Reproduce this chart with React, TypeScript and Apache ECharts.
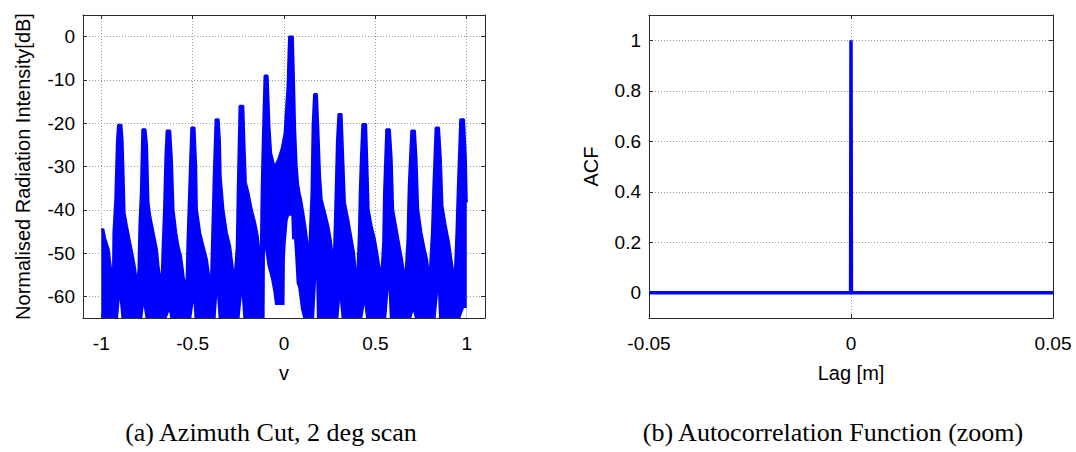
import React, { useEffect, useRef } from "react";
import * as echarts from "echarts";

// ---- (a) Azimuth cut: upper / lower envelope of the dense pattern ----
const azimuthV = [
  -1.0, -0.989, -0.978, -0.96, -0.951, -0.942, -0.936, -0.933, -0.923, -0.914,
  -0.908, -0.899, -0.89, -0.884, -0.878, -0.873, -0.86, -0.842, -0.827, -0.814,
  -0.805, -0.796, -0.791, -0.783, -0.775, -0.768, -0.758, -0.75, -0.742, -0.732,
  -0.714, -0.696, -0.687, -0.674, -0.668, -0.663, -0.656, -0.649, -0.642, -0.628,
  -0.623, -0.614, -0.605, -0.59, -0.578, -0.564, -0.554, -0.541, -0.532, -0.528,
  -0.519, -0.507, -0.495, -0.49, -0.481, -0.477, -0.459, -0.441, -0.422, -0.41,
  -0.402, -0.399, -0.392, -0.384, -0.374, -0.366, -0.358, -0.351, -0.347, -0.332,
  -0.313, -0.295, -0.286, -0.277, -0.272, -0.268, -0.258, -0.253, -0.243, -0.231,
  -0.223, -0.217, -0.209, -0.195, -0.177, -0.158, -0.144, -0.135, -0.131, -0.127,
  -0.122, -0.116, -0.106, -0.104, -0.09, -0.08, -0.071, -0.058, -0.049, -0.031,
  -0.013, 0.003, 0.005, 0.009, 0.02, 0.028, 0.04, 0.044, 0.048, 0.055,
  0.06, 0.069, 0.078, 0.087, 0.093, 0.105, 0.119, 0.13, 0.137, 0.142,
  0.151, 0.157, 0.165, 0.176, 0.18, 0.187, 0.197, 0.206, 0.224, 0.242,
  0.255, 0.264, 0.269, 0.275, 0.283, 0.29, 0.298, 0.306, 0.315, 0.324,
  0.333, 0.351, 0.37, 0.383, 0.393, 0.401, 0.404, 0.41, 0.415, 0.421,
  0.429, 0.44, 0.449, 0.455, 0.463, 0.479, 0.497, 0.51, 0.521, 0.53,
  0.537, 0.543, 0.548, 0.56, 0.572, 0.579, 0.589, 0.597, 0.616, 0.634,
  0.646, 0.657, 0.661, 0.665, 0.676, 0.683, 0.697, 0.707, 0.716, 0.725,
  0.734, 0.752, 0.77, 0.783, 0.794, 0.798, 0.81, 0.818, 0.83, 0.843,
  0.848, 0.858, 0.867, 0.885, 0.903, 0.916, 0.929, 0.934, 0.944, 0.952,
  0.965, 0.985, 0.995, 1.0,
];

const upperDb = [
  -44.5, -44.5, -46.8, -49.1, -52.2, -55.3, -57.6, -45.3, -37.6, -24.4,
  -20.4, -20.4, -20.4, -23.7, -32.2, -40.6, -43.7, -47.6, -50.7, -53.8,
  -57.6, -53.8, -43.7, -36.0, -21.4, -21.4, -21.4, -25.0, -38.3, -41.5,
  -45.3, -49.1, -53.0, -56.8, -54.5, -47.6, -39.9, -28.3, -21.7, -21.7,
  -21.7, -28.3, -39.9, -45.3, -48.4, -50.7, -53.8, -58.4, -55.3, -47.6,
  -36.0, -21.0, -21.0, -21.0, -30.0, -39.9, -45.3, -48.4, -51.5, -55.3,
  -58.0, -56.0, -45.0, -32.0, -19.1, -19.1, -19.1, -24.0, -32.2, -39.9,
  -45.3, -48.4, -51.5, -54.5, -58.4, -54.5, -48.4, -36.0, -16.0, -16.0,
  -16.0, -24.4, -33.7, -36.0, -39.9, -43.0, -46.0, -49.9, -54.5, -51.5,
  -36.0, -24.4, -9.0, -9.0, -9.0, -20.6, -26.8, -29.1, -30.0, -28.3,
  -26.0, -22.5, -21.5, -18.3, -11.3, 0, 0, 0, 0, -11.3,
  -20.6, -29.9, -34.5, -36.5, -37.6, -40.6, -44.5, -48.4, -51.5, -45.3,
  -36.0, -20.6, -13.3, -13.3, -13.3, -20.6, -32.2, -37.6, -40.6, -43.7,
  -46.8, -49.9, -54.5, -48.4, -36.0, -24.4, -17.9, -17.9, -17.9, -28.3,
  -38.3, -42.2, -46.8, -49.9, -54.5, -58.0, -52.0, -46.0, -36.0, -28.3,
  -20.2, -20.2, -20.2, -28.3, -39.9, -43.7, -46.8, -49.9, -53.0, -56.0,
  -52.0, -47.6, -36.0, -21.4, -21.4, -21.4, -28.3, -39.9, -44.5, -48.8,
  -51.5, -54.5, -57.0, -55.3, -46.8, -34.5, -21.7, -21.7, -21.7, -28.3,
  -39.9, -45.3, -49.1, -51.5, -56.0, -54.5, -45.3, -34.5, -21.0, -21.0,
  -21.0, -28.3, -39.1, -43.7, -47.6, -51.5, -55.3, -56.0, -45.3, -34.5,
  -19.1, -19.1, -28.3, -38.3,
];

const lowerDb = [
  -65, -65, -65, -65, -65, -65, -65, -65, -65, -65,
  -65, -60.7, -65, -65, -65, -65, -65, -65, -65, -65,
  -65, -65, -65, -65, -65, -62.3, -65, -65, -65, -65,
  -65, -65, -65, -65, -65, -65, -65, -65, -65, -63.5,
  -65, -65, -65, -65, -65, -65, -65, -65, -65, -65,
  -65, -65, -61.5, -65, -65, -65, -65, -65, -65, -65,
  -65, -65, -65, -65, -65, -60, -65, -65, -65, -65,
  -65, -65, -65, -65, -65, -65, -65, -65, -65, -60,
  -65, -65, -65, -65, -65, -65, -65, -65, -65, -65,
  -65, -65, -65, -49, -53, -54.5, -56, -59, -62, -62,
  -62, -62, -51.5, -48, -42.5, -41.4, -41.4, -46.8, -46.8, -46.8,
  -50, -57, -58, -61, -63, -65, -65, -65, -65, -65,
  -65, -65, -65, -56, -65, -65, -65, -65, -65, -65,
  -65, -65, -65, -65, -65, -65, -65, -61, -65, -65,
  -65, -65, -65, -65, -65, -65, -65, -65, -65, -65,
  -65, -62, -65, -65, -65, -65, -65, -65, -65, -65,
  -65, -65, -65, -65, -58.4, -65, -65, -65, -65, -65,
  -65, -65, -65, -65, -65, -65, -65, -63.5, -65, -65,
  -65, -65, -65, -65, -65, -65, -65, -65, -65, -59.2,
  -65, -65, -65, -65, -65, -65, -65, -65, -65, -65,
  -65, -62.7, -62.7, -62.7,
];

// ---- (b) Autocorrelation function (zoom) ----
const lagM = [-0.05, -0.0001, 0, 0.0001, 0.05];
const acfValues = [0, 0, 1, 0, 0];

// ---- texts ----
const captionA = "(a) Azimuth Cut, 2 deg scan";
const captionB = "(b) Autocorrelation Function (zoom)";
const yNameA = "Normalised Radiation Intensity[dB]";
const xNameA = "v";
const yNameB = "ACF";
const xNameB = "Lag [m]";

export default function App() {
  const ref = useRef<HTMLDivElement>(null);

  useEffect(() => {
    if (!ref.current) return;
    const chart = echarts.init(ref.current, null, { renderer: "svg" });
    const sans = "'Liberation Sans', Arial, Helvetica, sans-serif";
    const axisColor = "#2b2b2b";
    const blue = "#0000ff";

    const line = { show: true, onZero: false, lineStyle: { color: axisColor, width: 1 } };
    const tick = { show: true, inside: true, length: 4, lineStyle: { color: axisColor, width: 1 } };
    const split = { show: true, lineStyle: { type: [1, 2], color: "#9a9a9a", width: 1 } };
    const label = (margin: number, hideEdges: boolean) => ({
      show: true,
      color: "#000",
      fontFamily: sans,
      fontSize: 19,
      margin,
      showMinLabel: !hideEdges,
      showMaxLabel: !hideEdges,
    });
    const nameStyle = { color: "#000", fontFamily: sans, fontSize: 20 };
    const mirror = (kind: "x" | "y", gridIndex: number, extra: any) => ({
      gridIndex,
      type: "value",
      position: kind === "x" ? "top" : "right",
      axisLine: line,
      axisTick: tick,
      axisLabel: { show: false },
      splitLine: { show: false },
      ...extra,
    });

    const xA = { min: -1.1, max: 1.1, minInterval: 0.5, maxInterval: 0.5 };
    const yA = { min: -65, max: 5, minInterval: 10, maxInterval: 10 };
    const xB = { min: -0.05, max: 0.05, interval: 0.05 };
    const yB = { min: -0.1, max: 1.1, minInterval: 0.2, maxInterval: 0.2 };

    const upperPairs = azimuthV.map((v, i) => [v, upperDb[i]]);
    const lowerPairs = azimuthV.map((v, i) => [v, lowerDb[i]]);
    const acfPairs = lagM.map((l, i) => [l, acfValues[i]]);

    chart.setOption({
      animation: false,
      backgroundColor: "#fff",
      grid: [
        { left: 83, top: 15, width: 402, height: 303, containLabel: false },
        { left: 649, top: 15, width: 404, height: 303, containLabel: false },
      ],
      xAxis: [
        {
          gridIndex: 0,
          type: "value",
          position: "bottom",
          ...xA,
          axisLine: line,
          axisTick: tick,
          axisLabel: label(16, true),
          splitLine: split,
          name: xNameA,
          nameLocation: "middle",
          nameGap: 45,
          nameTextStyle: nameStyle,
        },
        mirror("x", 0, xA),
        {
          gridIndex: 1,
          type: "value",
          position: "bottom",
          ...xB,
          axisLine: line,
          axisTick: tick,
          axisLabel: label(16, false),
          splitLine: split,
          name: xNameB,
          nameLocation: "middle",
          nameGap: 45,
          nameTextStyle: nameStyle,
        },
        mirror("x", 1, xB),
      ],
      yAxis: [
        {
          gridIndex: 0,
          type: "value",
          position: "left",
          ...yA,
          axisLine: line,
          axisTick: tick,
          axisLabel: label(8, true),
          splitLine: split,
          name: yNameA,
          nameLocation: "middle",
          nameRotate: 90,
          nameGap: 50,
          nameTextStyle: nameStyle,
        },
        mirror("y", 0, yA),
        {
          gridIndex: 1,
          type: "value",
          position: "left",
          ...yB,
          axisLine: line,
          axisTick: tick,
          axisLabel: label(8, true),
          splitLine: split,
          name: yNameB,
          nameLocation: "middle",
          nameRotate: 90,
          nameGap: 48,
          nameTextStyle: nameStyle,
        },
        mirror("y", 1, yB),
      ],
      series: [
        {
          // dense pattern: filled from the upper envelope down to the axis floor
          type: "line",
          xAxisIndex: 0,
          yAxisIndex: 0,
          data: upperPairs,
          showSymbol: false,
          symbol: "none",
          lineStyle: { color: blue, width: 2.2 },
          areaStyle: { color: blue, opacity: 1, origin: "start" },
          silent: true,
          z: 2,
        },
        {
          // white gaps below the lower envelope
          type: "line",
          xAxisIndex: 0,
          yAxisIndex: 0,
          data: lowerPairs,
          showSymbol: false,
          symbol: "none",
          lineStyle: { width: 0, opacity: 0 },
          areaStyle: { color: "#ffffff", opacity: 1, origin: "start" },
          silent: true,
          z: 3,
        },
        {
          type: "line",
          xAxisIndex: 2,
          yAxisIndex: 2,
          data: acfPairs,
          showSymbol: false,
          symbol: "none",
          lineStyle: { color: blue, width: 3.5, join: "bevel" },
          silent: true,
        },
      ],
      graphic: [
        {
          type: "text",
          x: 271,
          y: 432,
          style: {
            text: captionA,
            fontFamily: "'Liberation Serif', 'Times New Roman', serif",
            fontSize: 26,
            fill: "#000",
            align: "center",
            verticalAlign: "middle",
          },
        },
        {
          type: "text",
          x: 833,
          y: 432,
          style: {
            text: captionB,
            fontFamily: "'Liberation Serif', 'Times New Roman', serif",
            fontSize: 26,
            fill: "#000",
            align: "center",
            verticalAlign: "middle",
          },
        },
      ],
    });

    return () => chart.dispose();
  }, []);

  return (
    <div
      ref={ref}
      style={{ position: "fixed", left: 0, top: 0, width: 1076, height: 452, background: "#fff" }}
    />
  );
}
